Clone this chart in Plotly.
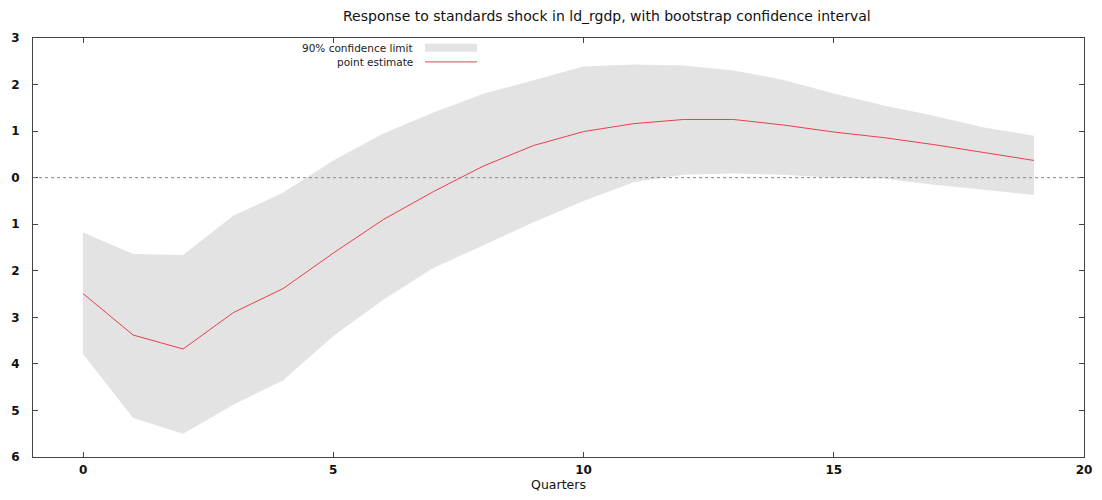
import plotly.graph_objects as go

quarters = list(range(20))
point_estimate = [-2.49, -3.38, -3.68, -2.9, -2.38, -1.62, -0.9, -0.3, 0.25, 0.69,
                  0.99, 1.16, 1.25, 1.25, 1.13, 0.98, 0.86, 0.71, 0.54, 0.37]
upper_limit = [-1.18, -1.64, -1.66, -0.82, -0.32, 0.37, 0.95, 1.4, 1.8, 2.1,
               2.39, 2.43, 2.41, 2.3, 2.1, 1.81, 1.55, 1.33, 1.08, 0.9]
lower_limit = [-3.79, -5.16, -5.5, -4.88, -4.35, -3.4, -2.62, -1.94, -1.45, -0.96,
               -0.5, -0.1, 0.06, 0.09, 0.06, 0.0, -0.02, -0.15, -0.26, -0.37]

y_tickvals = [3, 2, 1, 0, -1, -2, -3, -4, -5, -6]
y_ticktext = ["3", "2", "1", "0", "1", "2", "3", "4", "5", "6"]
x_tickvals = [0, 5, 10, 15, 20]
x_ticktext = ["0", "5", "10", "15", "20"]

title_text = "Response to standards shock in ld_rgdp, with bootstrap confidence interval"
band_label = "90% confidence limit"
line_label = "point estimate"

band_color = "#e3e3e4"
line_color = "#e8404a"

fig = go.Figure()
fig.add_trace(go.Scatter(
    x=quarters + quarters[::-1],
    y=upper_limit + lower_limit[::-1],
    fill="toself", fillcolor=band_color, line=dict(width=0, color=band_color),
    mode="lines", name=band_label, showlegend=False, hoverinfo="skip"))
fig.add_trace(go.Scatter(
    x=quarters, y=point_estimate, mode="lines",
    line=dict(color=line_color, width=1), name=line_label, showlegend=False))

fig.add_hline(y=0, line=dict(color="#888888", width=1, dash="dot"), layer="above")

# legend drawn gnuplot-style (text left, sample right)
fig.add_annotation(xref="paper", yref="paper", x=0.3635, y=0.976, xanchor="right",
                   yanchor="middle", text=band_label, showarrow=False,
                   font=dict(family="DejaVu Sans", size=10.5, color="#222222"))
fig.add_annotation(xref="paper", yref="paper", x=0.3635, y=0.943, xanchor="right",
                   yanchor="middle", text=line_label, showarrow=False,
                   font=dict(family="DejaVu Sans", size=10.5, color="#222222"))
fig.add_shape(type="rect", xref="paper", yref="paper", x0=0.373, x1=0.4225,
              y0=0.967, y1=0.986, fillcolor=band_color, line=dict(width=0))
fig.add_shape(type="line", xref="paper", yref="paper", x0=0.373, x1=0.4225,
              y0=0.943, y1=0.943, line=dict(color=line_color, width=1))

axis_common = dict(showgrid=False, zeroline=False, showline=True, linecolor="#444444",
                   linewidth=1, mirror="allticks", ticks="inside", ticklen=5,
                   tickcolor="#444444", automargin=False,
                   tickfont=dict(family="DejaVu Sans", size=12, color="#111111"))

# page body has an 8px margin, so the figure is sized to fit inside the window
fig.update_layout(
    width=1086, height=484,
    margin=dict(l=25, r=10, t=30, b=35),
    paper_bgcolor="white", plot_bgcolor="white",
    title=dict(text=title_text, x=0.546, xanchor="center", y=0.984, yanchor="middle",
               xref="paper", automargin=False,
               font=dict(family="DejaVu Sans", size=14, color="#111111")),
    xaxis=dict(range=[-1, 20], tickvals=x_tickvals,
               ticktext=["<b>%s</b>" % t for t in x_ticktext],
               ticklabelstandoff=2,
               title=dict(text="Quarters", standoff=12,
                          font=dict(family="DejaVu Sans", size=12.5, color="#111111")),
               **axis_common),
    yaxis=dict(range=[-6, 3], tickvals=y_tickvals,
               ticktext=["<b>%s</b>" % t for t in y_ticktext],
               ticklabelstandoff=10, **axis_common),
)

fig.write_html("out.html")
